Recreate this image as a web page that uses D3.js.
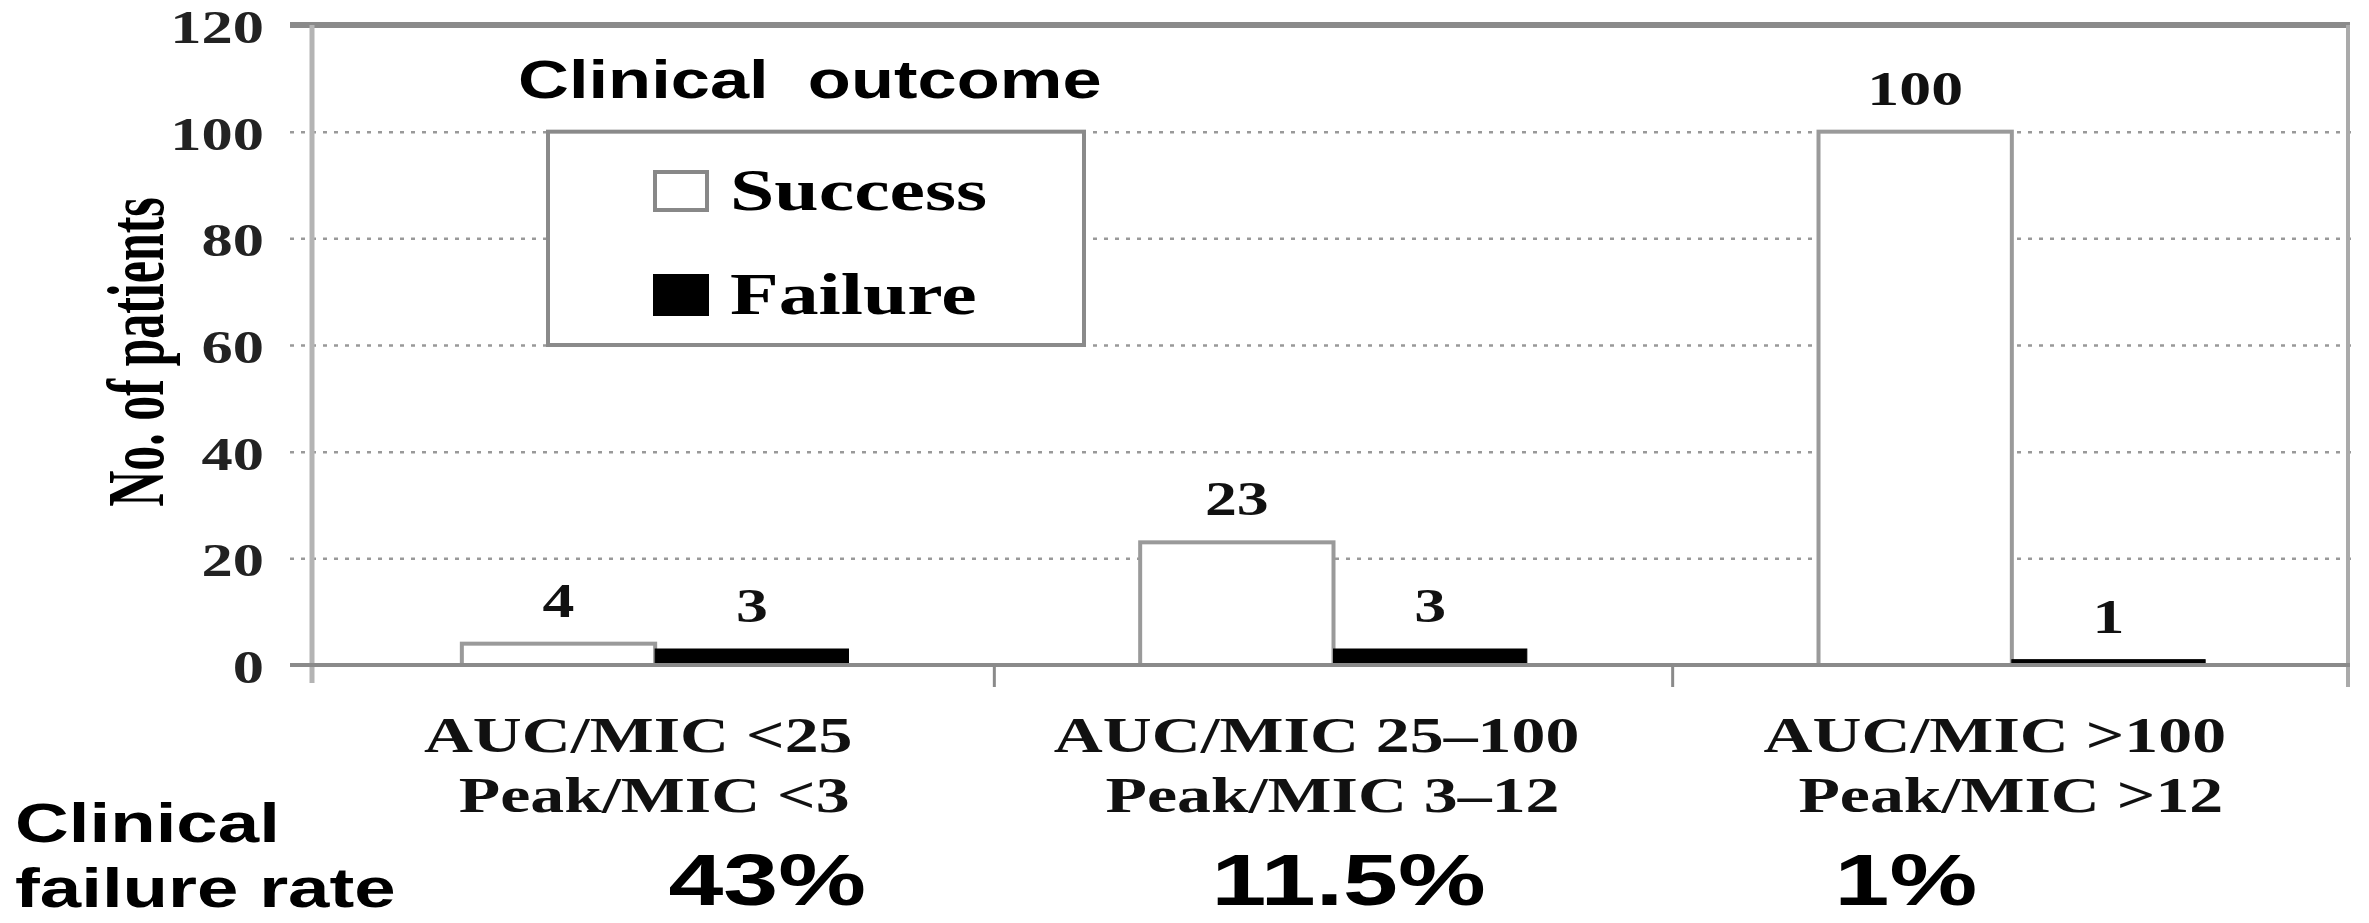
<!DOCTYPE html>
<html>
<head>
<meta charset="utf-8">
<script src="https://cdn.jsdelivr.net/npm/d3@7"></script>
<style>
  html, body { margin: 0; padding: 0; background: #fff; }
  #chart { width: 2369px; height: 923px; }
</style>
</head>
<body>
<div id="chart"></div>
<script>
// data
const aucLabels = ['AUC/MIC <25', 'AUC/MIC 25\u2013100', 'AUC/MIC >100'];
const peakLabels = ['Peak/MIC <3', 'Peak/MIC 3\u201312', 'Peak/MIC >12'];
const successCounts = [4, 23, 100];
const failureCounts = [3, 3, 1];
const failureRates = ['43%', '11.5%', '1%'];
const seriesNames = ['Success', 'Failure'];
const yTickValues = [0, 20, 40, 60, 80, 100, 120];

const chart = {};

chart.create = function(target){
  this.width_svg = 2369;
  this.height_svg = 923;
  this.plot = {left: 316, right: 2351, top: 25, bottom: 665};
  this.SX = 1.33;   // the figure is stretched sideways, text too
  this.serif = "'Liberation Serif', 'Times New Roman', serif";
  this.sans = "'Liberation Sans', Arial, sans-serif";
  this.colorRule = {'Success': '#fff', 'Failure': '#000'};
  this.svg = d3.select(`#${target}`)
               .append('svg')
               .attr('width', this.width_svg)
               .attr('height', this.height_svg);
  this.draw();
};

chart.draw = function(){
  let svg = this.svg, plot = this.plot, SX = this.SX,
      serif = this.serif, sans = this.sans, colorRule = this.colorRule;
  let axisColor = '#8a8a8a';

  let rows = aucLabels.map((d, i) => ({
    i: String(i), auc: d, peak: peakLabels[i], rate: failureRates[i],
    values: [{name: 'Success', value: successCounts[i]}, {name: 'Failure', value: failureCounts[i]}]
  }));

  let xScale = d3.scaleBand()
                 .domain(rows.map(d => d.i))
                 .range([plot.left, plot.right])
                 .paddingInner(0.43)
                 .paddingOuter(0.215);
  let xSub = d3.scaleBand()
               .domain(seriesNames)
               .range([0, xScale.bandwidth()]);
  let yScale = d3.scaleLinear()
                 .domain([0, 120])
                 .range([plot.bottom, plot.top]);

  const place = (x, y, rot, sx) => `translate(${x},${y}) scale(${sx || SX},1)` + (rot ? ` rotate(${rot})` : '');

  // dotted grid + y ticks
  let yAxis = g => g.attr('transform', `translate(${plot.left - 4}, 0)`)
                    .call(d3.axisLeft(yScale).tickValues(yTickValues).tickSize(0).tickFormat(''))
                    .call(g => g.select('.domain').remove())
                    .call(g => g.selectAll('.tick line').remove())
                    .call(g => g.selectAll('.tick')
                                .filter(d => d > 0 && d < 120)
                                .append('line')
                                .attr('x1', -22)
                                .attr('x2', plot.right - plot.left + 4)
                                .attr('stroke', '#999')
                                .attr('stroke-width', 2.5)
                                .attr('stroke-dasharray', '4 7'));
  svg.append('g').attr('id', 'g_grid').call(yAxis);

  svg.append('g').attr('id', 'g_yLabels')
     .selectAll('text')
     .data(yTickValues)
     .enter().append('text')
     .attr('transform', d => place(264, yScale(d) + 18))
     .attr('text-anchor', 'end')
     .attr('font-family', serif)
     .attr('font-weight', 'bold')
     .attr('font-size', 47)
     .attr('fill', '#222')
     .text(d => d);

  svg.append('text')
     .attr('transform', place(163, 352, -90, 1.6))
     .attr('text-anchor', 'middle')
     .attr('font-family', serif)
     .attr('font-weight', 'bold')
     .attr('font-size', 50)
     .text('No. of patients');

  // frame
  let frame = svg.append('g').attr('id', 'g_frame')
                 .attr('stroke', axisColor).attr('fill', 'none');
  frame.append('line').attr('x1', plot.left - 26).attr('x2', plot.right - 1)
       .attr('y1', yScale(120)).attr('y2', yScale(120)).attr('stroke-width', 6);
  frame.append('line').attr('x1', plot.left - 4).attr('x2', plot.left - 4)
       .attr('y1', yScale(120)).attr('y2', yScale(0) + 18).attr('stroke-width', 5).attr('stroke', '#b4b4b4');
  frame.append('line').attr('x1', plot.right - 3).attr('x2', plot.right - 3)
       .attr('y1', yScale(120)).attr('y2', yScale(0) + 22).attr('stroke-width', 4).attr('stroke', '#aaa');

  // legend box sits on the grid
  let legend = svg.append('g').attr('id', 'g_legend');
  legend.append('rect')
        .attr('x', 548).attr('y', yScale(100))
        .attr('width', 536).attr('height', yScale(60) - yScale(100))
        .attr('fill', '#fff').attr('stroke', axisColor).attr('stroke-width', 4);
  let item = legend.selectAll('g.item')
                   .data(seriesNames)
                   .enter().append('g')
                   .attr('class', 'item')
                   .attr('transform', (d, i) => `translate(655, ${172 + i * 104})`);
  item.append('rect')
      .attr('width', 52).attr('height', 38)
      .attr('fill', d => colorRule[d])
      .attr('stroke', d => d === 'Success' ? '#888' : '#000')
      .attr('stroke-width', 4);
  item.append('text')
      .attr('transform', place(75, 38))
      .attr('font-family', serif)
      .attr('font-weight', 'bold')
      .attr('font-size', 60)
      .text(d => d);

  svg.append('text')
     .attr('transform', place(518, 98))
     .attr('font-family', sans)
     .attr('font-weight', 'bold')
     .attr('font-size', 53)
     .style('white-space', 'pre')
     .text('Clinical  outcome');

  // bars
  let groups = svg.append('g').attr('id', 'g_bars')
                  .selectAll('g')
                  .data(rows)
                  .enter().append('g')
                  .attr('transform', d => `translate(${xScale(d.i)}, 0)`);
  groups.selectAll('rect')
        .data(d => d.values)
        .enter().append('rect')
        .attr('x', d => xSub(d.name))
        .attr('y', d => yScale(d.value))
        .attr('width', xSub.bandwidth())
        .attr('height', d => yScale(0) - yScale(d.value))
        .attr('fill', d => colorRule[d.name])
        .attr('stroke', d => d.name === 'Success' ? '#9a9a9a' : '#000')
        .attr('stroke-width', d => d.name === 'Success' ? 4 : 1);
  groups.selectAll('text')
        .data(d => d.values)
        .enter().append('text')
        .attr('transform', d => place(xSub(d.name) + xSub.bandwidth() / 2, yScale(d.value) - 27))
        .attr('text-anchor', 'middle')
        .attr('font-family', serif)
        .attr('font-weight', 'bold')
        .attr('font-size', 48)
        .attr('fill', '#111')
        .text(d => d.value);

  // x axis baseline + ticks at band edges
  let xAxis = svg.append('g').attr('id', 'g_xAxis').attr('stroke', axisColor);
  xAxis.append('line').attr('x1', plot.left - 26).attr('x2', plot.right - 1)
       .attr('y1', yScale(0)).attr('y2', yScale(0)).attr('stroke-width', 4);
  xAxis.selectAll('line.tick')
       .data(rows.slice(1))
       .enter().append('line')
       .attr('class', 'tick')
       .attr('x1', d => xScale(d.i) - xScale.step() * xScale.paddingInner() / 2)
       .attr('x2', d => xScale(d.i) - xScale.step() * xScale.paddingInner() / 2)
       .attr('y1', yScale(0)).attr('y2', yScale(0) + 22)
       .attr('stroke-width', 3);

  // category labels under the axis
  let cx = d => xScale(d.i) + xScale.bandwidth() / 2;
  let labels = svg.append('g').attr('id', 'g_xLabels')
                  .attr('font-family', serif)
                  .attr('font-weight', 'bold')
                  .attr('font-size', 51)
                  .attr('text-anchor', 'middle')
                  .attr('fill', '#111');
  labels.selectAll('text.auc')
        .data(rows).enter().append('text')
        .attr('class', 'auc')
        .attr('transform', d => place(cx(d) - 17, 752))
        .text(d => d.auc);
  labels.selectAll('text.peak')
        .data(rows).enter().append('text')
        .attr('class', 'peak')
        .attr('transform', d => place(cx(d) - 1, 812))
        .text(d => d.peak);

  // failure rate row
  let rateShift = [112, 15, -106];
  let rates = svg.append('g').attr('id', 'g_rates')
                 .attr('font-family', sans)
                 .attr('font-weight', 'bold');
  rates.append('text').attr('transform', place(15, 842)).attr('font-size', 56).text('Clinical');
  rates.append('text').attr('transform', place(15, 907)).attr('font-size', 56).text('failure rate');
  rates.selectAll('text.rate')
       .data(rows).enter().append('text')
       .attr('class', 'rate')
       .attr('transform', (d, i) => place(cx(d) + rateShift[i], 905, 0, 1.37))
       .attr('text-anchor', 'middle')
       .attr('font-size', 72)
       .text(d => d.rate);
};

chart.create('chart');
</script>
</body>
</html>
